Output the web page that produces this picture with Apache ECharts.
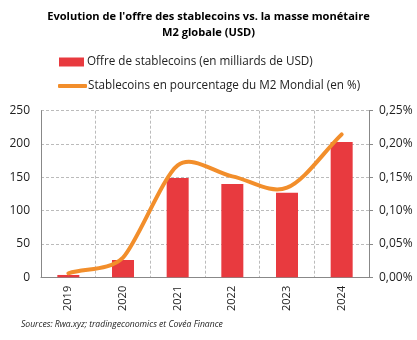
<!DOCTYPE html>
<html><head><meta charset="utf-8">
<script src="https://cdn.jsdelivr.net/npm/echarts@6/dist/echarts.min.js"></script>
<style>html,body{margin:0;padding:0;background:#fff}#c{width:417px;height:340px}</style>
</head><body><div id="c"></div>
<script>
const categories = ['2019','2020','2021','2022','2023','2024'];
const supplyValues = [3.5, 26, 149, 140, 127, 203];
const pctValues = [0.006, 0.0296, 0.168, 0.1515, 0.1345, 0.2145];
const leftTicks = [0, 50, 100, 150, 200, 250];
const rightTicks = [0, 0.05, 0.10, 0.15, 0.20, 0.25];

const FONT = 'Open Sans';
const ORANGE = '#F28E2B';
const LINE_NAME = 'Stablecoins en pourcentage du M2 Mondial (en %)';
const BAR_NAME = 'Offre de stablecoins (en milliards de USD)';

// Smoothed line (spreadsheet-style cardinal spline) through the data points,
// positioned with the chart's own axes via api.coord.
function renderSmoothLine(params, api) {
  if (params.dataIndex !== 0) return null;
  const pts = pctValues.map((v, i) => api.coord([i, v]));
  const n = pts.length;
  const dist = (a, b) => Math.hypot(a[0] - b[0], a[1] - b[1]);
  const tangents = pts.map((p, i) => {
    const prev = i > 0 ? pts[i - 1] : [2 * p[0] - pts[1][0], 2 * p[1] - pts[1][1]];
    const next = i < n - 1 ? pts[i + 1] : [2 * p[0] - pts[n - 2][0], 2 * p[1] - pts[n - 2][1]];
    let tx = (next[0] - prev[0]) / 6, ty = (next[1] - prev[1]) / 6;
    const len = Math.hypot(tx, ty);
    const lim = Math.min(dist(p, prev), dist(p, next)) / 3;
    if (len > lim && len > 0) { tx *= lim / len; ty *= lim / len; }
    return [tx, ty];
  });
  let d = 'M' + pts[0][0] + ' ' + pts[0][1];
  for (let i = 0; i < n - 1; i++) {
    const p1 = pts[i], p2 = pts[i + 1], t1 = tangents[i], t2 = tangents[i + 1];
    d += ' C' + (p1[0] + t1[0]) + ' ' + (p1[1] + t1[1]) + ' ' + (p2[0] - t2[0]) + ' ' + (p2[1] - t2[1]) +
         ' ' + p2[0] + ' ' + p2[1];
  }
  return {type: 'path', shape: {pathData: d},
    style: {stroke: ORANGE, lineWidth: 4, fill: null, lineCap: 'round', lineJoin: 'round'}};
}

const chart = echarts.init(document.getElementById('c'), null, {renderer: 'canvas'});
chart.setOption({
  animation: false,
  title: {
    text: "Evolution de l'offre des stablecoins vs. la masse monétaire\nM2 globale (USD)",
    left: 'center', top: 9.5, padding: 0,
    textStyle: {fontFamily: FONT, fontWeight: 'bold', fontSize: 11.1, lineHeight: 15.5, color: '#000'}
  },
  legend: [
    {data: [{name: BAR_NAME, icon: 'rect'}],
     left: 59, top: 56, padding: 0, itemWidth: 25, itemHeight: 9, itemGap: 4,
     textStyle: {fontFamily: FONT, fontSize: 11.7, color: '#222', padding: [0,0,0,-2]}},
    {data: [{name: LINE_NAME, icon: 'roundRect', itemStyle: {color: ORANGE}}],
     left: 58, top: 80, padding: 0, itemWidth: 29, itemHeight: 4, itemGap: 4,
     textStyle: {fontFamily: FONT, fontSize: 11.7, color: '#222', padding: [0,0,0,-4]}}
  ],
  grid: {left: 41, right: 48, top: 110.7, bottom: 62.7},
  xAxis: {
    type: 'category', data: categories, boundaryGap: true,
    axisLine: {lineStyle: {color: '#888', width: 1}},
    axisTick: {show: false},
    axisLabel: {rotate: 90, fontFamily: FONT, fontSize: 11, color: '#222', margin: 8.5},
    splitLine: {show: true, lineStyle: {color: '#bbb', type: [3,2], width: 1}}
  },
  yAxis: [
    {type: 'value', min: 0, max: 250, interval: 50,
     axisLine: {show: true, lineStyle: {color: '#888'}},
     axisTick: {show: false},
     axisLabel: {fontFamily: FONT, fontSize: 12, color: '#222', margin: 11,
       formatter: v => leftTicks.includes(v) ? String(v) : ''},
     splitLine: {show: true, lineStyle: {color: '#bbb', type: [3,2], width: 1}}},
    {type: 'value', min: 0, max: 0.25, interval: 0.05, position: 'right',
     axisLine: {show: true, lineStyle: {color: '#888'}},
     axisTick: {show: true, length: 4, lineStyle: {color: '#888'}},
     axisLabel: {fontFamily: FONT, fontSize: 12, color: '#222', margin: 10,
       formatter: v => rightTicks.some(t => Math.abs(t - v) < 1e-9) ? v.toFixed(2).replace('.', ',') + '%' : ''},
     splitLine: {show: false}}
  ],
  series: [
    {name: BAR_NAME, type: 'bar', data: supplyValues,
     barWidth: 22, itemStyle: {color: '#E83A3F'}, yAxisIndex: 0, z: 2},
    {name: LINE_NAME, type: 'custom', yAxisIndex: 1, z: 3,
     data: pctValues.map((v, i) => [i, v]), encode: {x: 0, y: 1},
     itemStyle: {color: ORANGE}, renderItem: renderSmoothLine, clip: false}
  ],
  graphic: [{type: 'text', left: 21, top: 320,
    style: {text: 'Sources: Rwa.xyz; tradingeconomics et Covéa Finance', fontFamily: FONT,
      fontStyle: 'italic', fontSize: 8.6, fill: '#222'}}]
});
</script></body></html>
